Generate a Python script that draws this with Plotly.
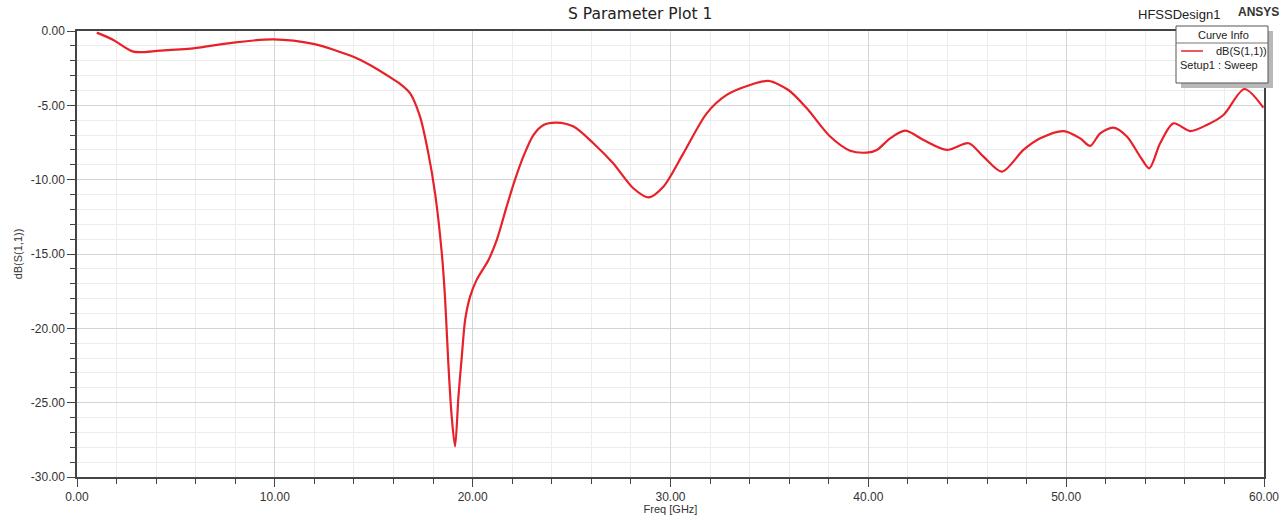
import plotly.graph_objects as go

freq_ghz = [1.0, 1.84, 2.85, 4.2, 5.88, 7.9, 9.93, 11.95, 13.97, 14.81, 15.99, 16.33,
            16.84, 17.34, 17.76, 18.1, 18.44, 18.6, 18.77, 18.94, 19.11, 19.28, 19.45, 19.62,
            19.87, 20.2, 20.8, 21.22, 21.72, 22.14, 22.56, 23.07, 23.58, 24.25, 25.1, 26.1, 27.1,
            28.12, 28.88, 29.64, 30.65, 31.83, 32.84, 34.02, 34.95, 35.96, 36.89, 38.07, 39.08,
            39.92, 40.43, 41.1, 41.86, 42.79, 43.97, 45.07, 45.82, 46.75, 47.84, 48.69,
            49.87, 50.71, 51.21, 51.72, 52.39, 53.07, 53.74, 54.2, 54.75, 55.42, 56.27,
            57.11, 57.95, 59.01, 59.97]
s11_db = [-0.11, -0.6, -1.39, -1.32, -1.17, -0.78, -0.56, -0.87, -1.73, -2.29, -3.25, -3.55,
          -4.19, -5.76, -8.23, -10.92, -14.95, -17.87, -22.35, -25.94, -27.95, -24.6, -21.9, -19.43,
          -17.87, -16.74, -15.4, -14.05, -11.8, -10.0, -8.45, -7.0, -6.32, -6.16, -6.43, -7.55, -8.9,
          -10.58, -11.19, -10.47, -8.23, -5.54, -4.3, -3.63, -3.36, -3.97, -5.2, -7.1, -8.05,
          -8.18, -8.0, -7.22, -6.7, -7.33, -8.0, -7.55, -8.45, -9.46, -8.0, -7.22,
          -6.73, -7.22, -7.73, -6.88, -6.5, -7.1, -8.45, -9.24, -7.55, -6.21, -6.73,
          -6.32, -5.65, -3.9, -5.16]

x_ticks = [0, 10, 20, 30, 40, 50, 60]
x_tick_labels = ["0.00", "10.00", "20.00", "30.00", "40.00", "50.00", "60.00"]
y_ticks = [0, -5, -10, -15, -20, -25, -30]
y_tick_labels = ["0.00", "-5.00", "-10.00", "-15.00", "-20.00", "-25.00", "-30.00"]

W, H = 1286, 515
L, R, T, B = 77, 1264, 31, 477

def px(x):
    return (x - L) / (R - L)

def py(y):
    return (B - y) / (B - T)

FONT = "Liberation Sans, Arial, sans-serif"
TFONT = "DejaVu Sans, Liberation Sans, sans-serif"
RED = "#e8202a"

fig = go.Figure()
fig.add_trace(go.Scatter(x=freq_ghz, y=s11_db, mode="lines",
                         line=dict(color=RED, width=2.2, shape="spline", smoothing=0.8),
                         showlegend=False, hoverinfo="x+y"))

axis_common = dict(showline=True, linecolor="#444444", linewidth=1.5, mirror=True,
                   gridcolor="#d4d4d4", gridwidth=1, zeroline=False, automargin=False,
                   ticks="outside", ticklen=8, tickcolor="#444444",
                   tickfont=dict(family=FONT, size=12, color="#333333"))

fig.update_xaxes(range=[0, 60], tickvals=x_ticks, ticktext=x_tick_labels, **axis_common,
                 minor=dict(dtick=2, showgrid=True, gridcolor="#ececec", ticks="outside",
                            ticklen=5, tickcolor="#444444"),
                 title=dict(text="Freq [GHz]", font=dict(family=FONT, size=11, color="#333333"),
                            standoff=2))
fig.update_yaxes(range=[-30, 0], tickvals=y_ticks, ticktext=y_tick_labels, **axis_common,
                 minor=dict(dtick=1, showgrid=True, gridcolor="#ececec", ticks="outside",
                            ticklen=5, tickcolor="#444444"),
                 title=dict(text="dB(S(1,1))", font=dict(family=FONT, size=11, color="#333333"),
                            standoff=6))

shapes = []
# legend shadow
shapes.append(dict(type="rect", xref="paper", yref="paper",
                   x0=px(1181), x1=px(1273), y0=py(88), y1=py(31),
                   fillcolor="#b8b8b8", line=dict(width=0), layer="above"))
# legend box
shapes.append(dict(type="rect", xref="paper", yref="paper",
                   x0=px(1176), x1=px(1268), y0=py(83), y1=py(26),
                   fillcolor="white", line=dict(color="#555555", width=1), layer="above"))
# separator
shapes.append(dict(type="line", xref="paper", yref="paper",
                   x0=px(1176), x1=px(1268), y0=py(43), y1=py(43),
                   line=dict(color="#777777", width=1), layer="above"))
# legend sample line
shapes.append(dict(type="line", xref="paper", yref="paper",
                   x0=px(1181), x1=px(1203), y0=py(51), y1=py(51),
                   line=dict(color=RED, width=1.5), layer="above"))

def ann(text, x, y, size, family=FONT, color="#222222"):
    return dict(text=text, x=px(x), y=py(y), xref="paper", yref="paper",
                xanchor="center", yanchor="middle", showarrow=False,
                font=dict(family=family, size=size, color=color))

annotations = [
    ann("S Parameter Plot 1", 640, 14, 15.5, TFONT),
    ann("HFSSDesign1", 1179, 14, 13, FONT),
    ann("<b>ANSYS</b>", 1258, 12, 12, FONT, "#333333"),
    ann("Curve Info", 1223, 35, 11),
    ann("dB(S(1,1))", 1241, 51, 11),
    ann("Setup1 : Sweep", 1219, 65, 11),
]

fig.update_layout(width=W, height=H, margin=dict(l=L, r=W - R, t=T, b=H - B),
                  paper_bgcolor="white", plot_bgcolor="white",
                  shapes=shapes, annotations=annotations, showlegend=False)

fig.write_html("out.html", config={"displayModeBar": False},
               post_script="document.body.style.margin='0';document.body.style.padding='0';")
